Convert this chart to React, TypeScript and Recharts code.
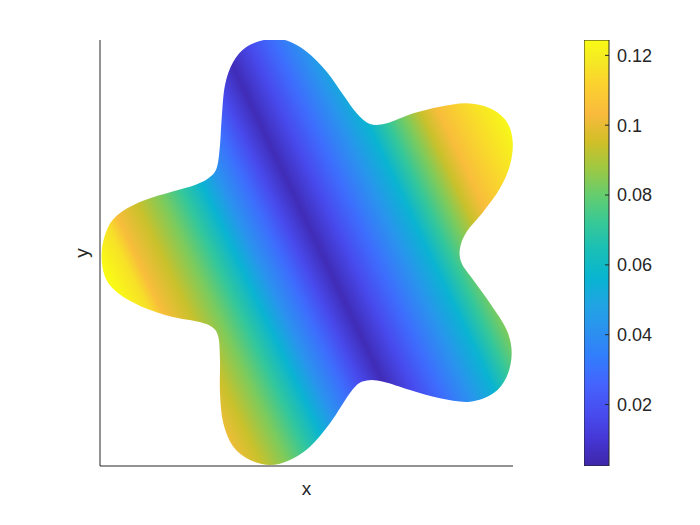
import { ComposedChart, Scatter, XAxis, YAxis, BarChart, Bar } from "recharts";

// star outline, clockwise from the left tip
const BOUNDARY_X = [
  -2.103, -2.037, -1.903, -1.67, -1.403, -1.17, -1.037, -0.953, -0.92, -0.903,
  -0.87, -0.787, -0.653, -0.453, -0.253, -0.053, 0.147, 0.313, 0.447, 0.58,
  0.747, 1.013, 1.28, 1.547, 1.78, 1.947, 2.007, 1.98, 1.88, 1.713,
  1.547, 1.48, 1.497, 1.613, 1.78, 1.947, 1.997, 1.947, 1.813, 1.58,
  1.28, 0.98, 0.713, 0.547, 0.41, 0.18, -0.02, -0.22, -0.42, -0.62,
  -0.787, -0.887, -0.92, -0.92, -0.937, -1.003, -1.137, -1.403, -1.703, -1.937,
  -2.07
];
const BOUNDARY_Y = [
  0.003, 0.253, 0.403, 0.52, 0.603, 0.67, 0.737, 0.84, 1.07, 1.337,
  1.67, 1.903, 2.053, 2.125, 2.115, 2.003, 1.803, 1.57, 1.387, 1.28,
  1.287, 1.387, 1.453, 1.487, 1.437, 1.303, 1.103, 0.87, 0.637, 0.403,
  0.203, 0.037, -0.113, -0.28, -0.513, -0.78, -1.013, -1.247, -1.413, -1.497,
  -1.463, -1.38, -1.297, -1.285, -1.37, -1.713, -1.947, -2.08, -2.13, -2.08,
  -1.947, -1.713, -1.413, -1.08, -0.847, -0.747, -0.697, -0.647, -0.547, -0.413,
  -0.247
];
const X_DOMAIN = [-2.12, 2.01];
const Y_DOMAIN = [-2.14, 2.12];

// the field: bands parallel to a dark ridge, value by horizontal offset from it
const RIDGE_X = 0.08;
const RIDGE_Y = 0.02;
const RIDGE_TILT = -0.475;
const FIELD_OFFSET = [
  -2.25, -2.0, -1.87, -1.6, -1.33, -1.1, -0.87, -0.67, -0.43, -0.23, 0,
  0.27, 0.53, 0.8, 1.08, 1.28, 1.48, 1.66, 1.84, 2.15, 2.44, 2.5
];
const FIELD_VALUE = [
  0.125, 0.116, 0.104, 0.094, 0.083, 0.071, 0.056, 0.042, 0.029, 0.017, 0.005,
  0.017, 0.029, 0.042, 0.056, 0.071, 0.083, 0.094, 0.104, 0.114, 0.122, 0.124
];

const CB_MIN = 0.0024;
const CB_MAX = 0.1244;
const CB_TICKS = [0.02, 0.04, 0.06, 0.08, 0.1, 0.12];
const CB_DATA = [{ name: "cb", range: [CB_MIN, CB_MAX] }];

// parula
const PARULA_T = [0, 0.0635, 0.127, 0.19, 0.254, 0.317, 0.381, 0.444, 0.508, 0.571, 0.635, 0.698, 0.762, 0.825, 0.889, 0.952, 1];
const PARULA = [
  "#3e26a8", "#4537d5", "#484df0", "#4563fd", "#327cfc", "#2b91ef", "#20a5e3", "#08b5d0",
  "#19bfb6", "#37c897", "#64cd6f", "#9dc943", "#d1bf27", "#f8ba3d", "#fccf30", "#f5e924", "#f9fb15"
];

const FONT = "'Liberation Sans', Arial, sans-serif";
const INK = "#262626";

function hexRgb(h: string) {
  return [1, 3, 5].map((i) => parseInt(h.slice(i, i + 2), 16));
}

function parula(t: number) {
  const u = Math.max(0, Math.min(1, t));
  let i = 0;
  while (i < PARULA_T.length - 2 && u > PARULA_T[i + 1]) i++;
  const f = (u - PARULA_T[i]) / (PARULA_T[i + 1] - PARULA_T[i]);
  const a = hexRgb(PARULA[i]);
  const b = hexRgb(PARULA[i + 1]);
  const c = a.map((v, k) => Math.round(v + (b[k] - v) * f));
  return `rgb(${c[0]},${c[1]},${c[2]})`;
}

const BOUNDARY = BOUNDARY_X.map((x, i) => ({ x, y: BOUNDARY_Y[i] }));

function argMin(a: number[]) {
  return a.indexOf(Math.min(...a));
}
function argMax(a: number[]) {
  return a.indexOf(Math.max(...a));
}

function starFill(props: any) {
  const pts = props.points || [];
  if (pts.length < 3) return <g />;
  const ix0 = argMin(BOUNDARY_X), ix1 = argMax(BOUNDARY_X);
  const iy0 = argMin(BOUNDARY_Y), iy1 = argMax(BOUNDARY_Y);
  const kx = (pts[ix1].x - pts[ix0].x) / (BOUNDARY_X[ix1] - BOUNDARY_X[ix0]);
  const ky = (pts[iy1].y - pts[iy0].y) / (BOUNDARY_Y[iy1] - BOUNDARY_Y[iy0]);
  const px = (x: number) => pts[ix0].x + (x - BOUNDARY_X[ix0]) * kx;
  const py = (y: number) => pts[iy0].y + (y - BOUNDARY_Y[iy0]) * ky;

  // gradient runs across the ridge
  const len = Math.hypot(1, RIDGE_TILT);
  const nx = 1 / len, ny = -RIDGE_TILT / len;
  const hMin = FIELD_OFFSET[0];
  const hMax = FIELD_OFFSET[FIELD_OFFSET.length - 1];
  const x1 = px(RIDGE_X + (hMin / len) * nx), y1 = py(RIDGE_Y + (hMin / len) * ny);
  const x2 = px(RIDGE_X + (hMax / len) * nx), y2 = py(RIDGE_Y + (hMax / len) * ny);

  // closed catmull-rom through the outline
  const n = pts.length;
  let d = `M${pts[0].x},${pts[0].y}`;
  for (let i = 0; i < n; i++) {
    const p0 = pts[(i - 1 + n) % n], p1 = pts[i], p2 = pts[(i + 1) % n], p3 = pts[(i + 2) % n];
    d += `C${p1.x + (p2.x - p0.x) / 6},${p1.y + (p2.y - p0.y) / 6} ${p2.x - (p3.x - p1.x) / 6},${p2.y - (p3.y - p1.y) / 6} ${p2.x},${p2.y}`;
  }
  d += "Z";

  return (
    <g>
      <defs>
        <linearGradient id="starField" gradientUnits="userSpaceOnUse" x1={x1} y1={y1} x2={x2} y2={y2}>
          {FIELD_OFFSET.map((h, i) => (
            <stop
              key={i}
              offset={(h - hMin) / (hMax - hMin)}
              stopColor={parula((FIELD_VALUE[i] - CB_MIN) / (CB_MAX - CB_MIN))}
            />
          ))}
        </linearGradient>
      </defs>
      <path d={d} fill="url(#starField)" stroke="none" />
    </g>
  );
}

function yLabel(p: any) {
  const vb = p.viewBox;
  const cx = vb.x + vb.width - 12;
  const cy = vb.y + vb.height / 2;
  return (
    <text x={cx} y={cy} transform={`rotate(-90 ${cx} ${cy})`} textAnchor="middle" fontFamily={FONT} fontSize={19} fill={INK}>
      y
    </text>
  );
}

function xLabel(p: any) {
  const vb = p.viewBox;
  return (
    <text x={vb.x + vb.width / 2} y={vb.y + 29} textAnchor="middle" fontFamily={FONT} fontSize={19} fill={INK}>
      x
    </text>
  );
}

export default function App() {
  return (
    <div style={{ position: "absolute", left: 0, top: 0, width: 700, height: 525, background: "#fff" }}>
      <svg width={0} height={0} style={{ position: "absolute" }}>
        <defs>
          <linearGradient id="cbGrad" x1="0" y1="1" x2="0" y2="0">
            {PARULA.map((c, i) => (
              <stop key={i} offset={PARULA_T[i]} stopColor={c} />
            ))}
          </linearGradient>
        </defs>
      </svg>

      <div style={{ position: "absolute", left: 0, top: 0 }}>
        <ComposedChart width={700} height={525} margin={{ top: 40, right: 187, bottom: 29, left: 40 }}>
          <XAxis
            type="number"
            dataKey="x"
            domain={X_DOMAIN}
            allowDataOverflow
            height={30}
            tick={false}
            tickLine={false}
            axisLine={{ stroke: INK }}
            label={xLabel}
          />
          <YAxis
            type="number"
            dataKey="y"
            domain={Y_DOMAIN}
            allowDataOverflow
            width={60}
            tick={false}
            tickLine={false}
            axisLine={{ stroke: INK }}
            label={yLabel}
          />
          <Scatter
            data={BOUNDARY}
            line={starFill}
            lineType="joint"
            shape={() => <g />}
            isAnimationActive={false}
          />
        </ComposedChart>
      </div>

      {/* colorbar */}
      <div style={{ position: "absolute", left: 584, top: 0 }}>
        <BarChart width={116} height={525} data={CB_DATA} margin={{ top: 40, right: 31, bottom: 59, left: 0 }} barCategoryGap={0}>
          <XAxis dataKey="name" hide />
          <YAxis
            orientation="right"
            type="number"
            domain={[CB_MIN, CB_MAX]}
            allowDataOverflow
            ticks={CB_TICKS}
            width={60}
            axisLine={false}
            tickSize={-4}
            tickMargin={12}
            tickLine={{ stroke: INK }}
            tick={{ fill: INK, fontSize: 18, fontFamily: FONT }}
            tickFormatter={(v: number) => String(v)}
          />
          <Bar dataKey="range" fill="url(#cbGrad)" stroke={INK} strokeWidth={1} isAnimationActive={false} />
        </BarChart>
      </div>
    </div>
  );
}
